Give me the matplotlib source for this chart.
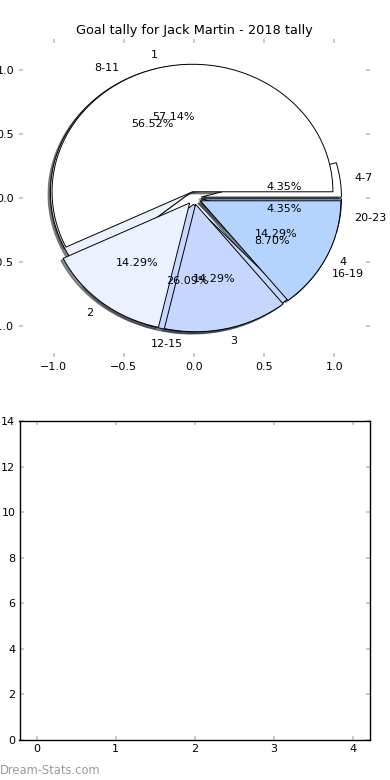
import matplotlib
matplotlib.use("Agg")
import matplotlib.pyplot as plt

title = "Goal tally for Jack Martin - 2018 tally"
goal_labels = ["1", "2", "3", "4"]
goal_counts = [4, 1, 1, 1]
age_labels = ["4-7", "8-11", "12-15", "16-19", "20-23"]
age_counts = [1, 13, 6, 2, 1]
colors = ["#ffffff", "#ebf1ff", "#c6d7ff", "#b4d4ff"]
age_colors = ["#ffffff", "#ebf1ff", "#c6d7ff", "#b4d4ff", "#b4d4ff"]
bottom_xticks = [0, 1, 2, 3, 4]
bottom_yticks = [0, 2, 4, 6, 8, 10, 12, 14]

plt.rcParams['font.family'] = ['DejaVu Sans']
fig = plt.figure(figsize=(3.9, 7.8), dpi=100)
W, H = 390, 780
ax1 = fig.add_axes([18.5 / W, 1 - 357.4 / H, 351.1 / W, 318.8 / H])
ax2 = fig.add_axes([19.5 / W, 1 - 740 / H, 350.5 / W, 319 / H])

fs = 8
wp = dict(edgecolor='black', linewidth=0.7)
shadow = dict(ox=-0.012, oy=-0.012, shade=0.75, alpha=0.6)
ax1.pie(age_counts, labels=age_labels, colors=age_colors, explode=[0.05] * len(age_counts),
        autopct='%.2f%%', shadow=shadow, startangle=0, wedgeprops=wp,
        textprops=dict(fontsize=fs))
ax1.pie(goal_counts, labels=goal_labels, colors=colors, explode=[0.05] * len(goal_counts),
        autopct='%.2f%%', shadow=shadow, startangle=0, wedgeprops=wp,
        textprops=dict(fontsize=fs))
ax1.set_aspect('auto')
ax1.set_xlim(-1.25, 1.25)
ax1.set_ylim(-1.25, 1.25)
ax1.set_frame_on(False)
ax1.set_xticks([-1.0, -0.5, 0.0, 0.5, 1.0])
ax1.set_yticks([-1.0, -0.5, 0.0, 0.5, 1.0])
ax1.set_yticklabels(['\u22121.0', '\u22120.5', '0.0', '0.5', '1.0'])
ax1.set_xticklabels(['\u22121.0', '\u22120.5', '0.0', '0.5', '1.0'])
ax1.set_title(title, fontsize=9.3, pad=3)

for ax in (ax1, ax2):
    ax.tick_params(direction='in', length=3, width=1.2, color='#c0c0c0',
                   labelsize=fs, top=True, right=True, pad=3)

ax2.set_xlim(-0.22, 4.22)
ax2.set_ylim(0, 14)
ax2.set_xticks(bottom_xticks)
ax2.set_yticks(bottom_yticks)
for s in ax2.spines.values():
    s.set_linewidth(1.0)

fig.text(0.0, 1 - 770 / H, "Dream-Stats.com", fontsize=8.3, color='#9a9a9a',
         va='center', ha='left')

fig.savefig("out.png", dpi=100)
